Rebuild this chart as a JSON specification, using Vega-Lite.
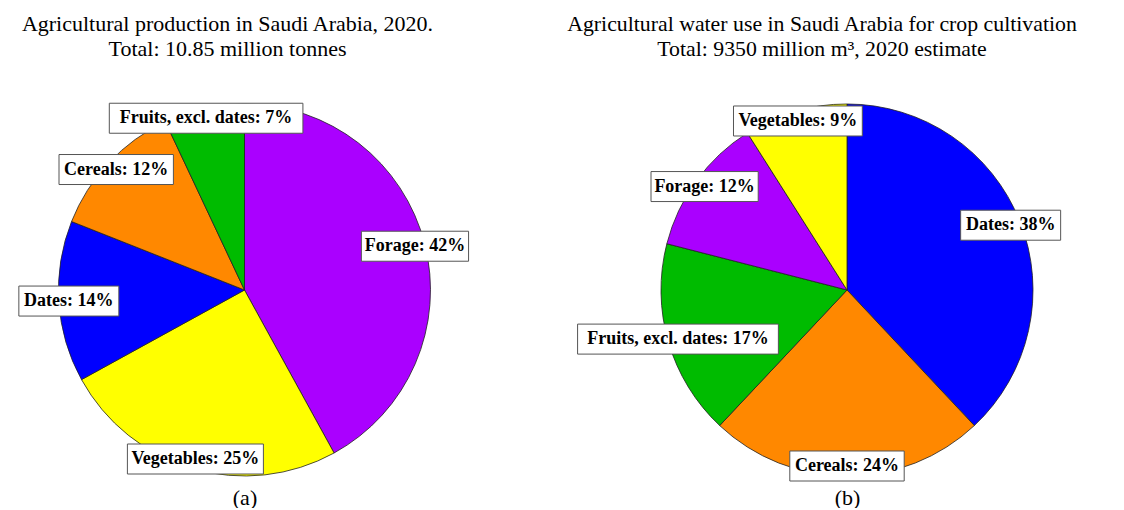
{
  "$schema": "https://vega.github.io/schema/vega-lite/v6.json",
  "background": "white",
  "padding": {"left": 17.5, "top": 13, "right": 0, "bottom": 0},
  "datasets": {
    "production": [
      {"crop": "Forage", "pct": 42},
      {"crop": "Vegetables", "pct": 25},
      {"crop": "Dates", "pct": 14},
      {"crop": "Cereals", "pct": 12},
      {"crop": "Fruits, excl. dates", "pct": 7}
    ],
    "water": [
      {"crop": "Dates", "pct": 38},
      {"crop": "Cereals", "pct": 24},
      {"crop": "Fruits, excl. dates", "pct": 17},
      {"crop": "Forage", "pct": 12},
      {"crop": "Vegetables", "pct": 9}
    ]
  },
  "spacing": 202.5,
  "bounds": "flush",
  "hconcat": [
    {
      "width": 400,
      "height": 380,
      "data": {"name": "production"},
      "transform": [
        {"window": [{"op": "sum", "field": "pct", "as": "cum"}], "sort": [{"field": "pct", "order": "descending"}], "frame": [null, 0]},
        {"calculate": "(datum.cum - datum.pct / 2) * PI / 50", "as": "mid"},
        {"calculate": "176 * sin(datum.mid)", "as": "lx"},
        {"calculate": "176 * cos(datum.mid)", "as": "ly"},
        {"calculate": "datum.crop + ': ' + datum.pct + '%'", "as": "label"},
        {"calculate": "3.6 * length(datum.label) + 14", "as": "hw"},
        {"calculate": "datum.lx - datum.hw", "as": "bx1"},
        {"calculate": "datum.lx + datum.hw", "as": "bx2"},
        {"calculate": "datum.ly - 15", "as": "by1"},
        {"calculate": "datum.ly + 15", "as": "by2"}
      ],
      "title": {
        "text": ["Agricultural production in Saudi Arabia, 2020.", "Total: 10.85 million tonnes"],
        "anchor": "middle",
        "font": "Liberation Serif",
        "fontSize": 22,
        "fontWeight": "normal",
        "lineHeight": 25,
        "color": "#000",
        "dx": -17,
        "offset": 39
      },
      "layer": [
        {
          "mark": {"type": "arc", "outerRadius": 186, "stroke": "#222", "strokeWidth": 0.8},
          "encoding": {
            "theta": {"field": "pct", "type": "quantitative", "stack": true},
            "order": {"field": "pct", "type": "quantitative", "sort": "descending"},
            "color": {
              "field": "crop", "type": "nominal", "legend": null,
              "scale": {"domain": ["Forage", "Vegetables", "Dates", "Cereals", "Fruits, excl. dates"],
                        "range": ["#AA00FF", "#FFFF00", "#0000FF", "#FF8800", "#00BB00"]}
            }
          }
        },
        {
          "mark": {"type": "rect", "fill": "white", "stroke": "#555", "strokeWidth": 1},
          "encoding": {
            "x": {"field": "bx1", "type": "quantitative",
                  "scale": {"domain": [-200, 200], "nice": false, "zero": false},
                  "axis": {"title": "(a)", "labels": false, "ticks": false, "domain": false, "grid": false,
                           "titleFont": "Liberation Serif", "titleFontSize": 22, "titleFontWeight": "normal", "titleColor": "#000", "titlePadding": 7}},
            "x2": {"field": "bx2"},
            "y": {"field": "by1", "type": "quantitative",
                  "scale": {"domain": [-190, 190], "nice": false, "zero": false}, "axis": null},
            "y2": {"field": "by2"}
          }
        },
        {
          "mark": {"type": "text", "font": "Liberation Serif", "fontWeight": "bold", "fontSize": 18, "fill": "#000"},
          "encoding": {
            "x": {"field": "lx", "type": "quantitative"},
            "y": {"field": "ly", "type": "quantitative"},
            "text": {"field": "label", "type": "nominal"}
          }
        }
      ]
    },
    {
      "width": 400,
      "height": 380,
      "data": {"name": "water"},
      "transform": [
        {"window": [{"op": "sum", "field": "pct", "as": "cum"}], "sort": [{"field": "pct", "order": "descending"}], "frame": [null, 0]},
        {"calculate": "(datum.cum - datum.pct / 2) * PI / 50", "as": "mid"},
        {"calculate": "176 * sin(datum.mid)", "as": "lx"},
        {"calculate": "176 * cos(datum.mid)", "as": "ly"},
        {"calculate": "datum.crop + ': ' + datum.pct + '%'", "as": "label"},
        {"calculate": "3.6 * length(datum.label) + 14", "as": "hw"},
        {"calculate": "datum.lx - datum.hw", "as": "bx1"},
        {"calculate": "datum.lx + datum.hw", "as": "bx2"},
        {"calculate": "datum.ly - 15", "as": "by1"},
        {"calculate": "datum.ly + 15", "as": "by2"}
      ],
      "title": {
        "text": ["Agricultural water use in Saudi Arabia for crop cultivation", "Total: 9350 million m³, 2020 estimate"],
        "anchor": "middle",
        "font": "Liberation Serif",
        "fontSize": 21.8,
        "fontWeight": "normal",
        "lineHeight": 25,
        "color": "#000",
        "dx": -25,
        "offset": 39
      },
      "layer": [
        {
          "mark": {"type": "arc", "outerRadius": 186, "stroke": "#222", "strokeWidth": 0.8},
          "encoding": {
            "theta": {"field": "pct", "type": "quantitative", "stack": true},
            "order": {"field": "pct", "type": "quantitative", "sort": "descending"},
            "color": {
              "field": "crop", "type": "nominal", "legend": null,
              "scale": {"domain": ["Forage", "Vegetables", "Dates", "Cereals", "Fruits, excl. dates"],
                        "range": ["#AA00FF", "#FFFF00", "#0000FF", "#FF8800", "#00BB00"]}
            }
          }
        },
        {
          "mark": {"type": "rect", "fill": "white", "stroke": "#555", "strokeWidth": 1},
          "encoding": {
            "x": {"field": "bx1", "type": "quantitative",
                  "scale": {"domain": [-200, 200], "nice": false, "zero": false},
                  "axis": {"title": "(b)", "labels": false, "ticks": false, "domain": false, "grid": false,
                           "titleFont": "Liberation Serif", "titleFontSize": 22, "titleFontWeight": "normal", "titleColor": "#000", "titlePadding": 7}},
            "x2": {"field": "bx2"},
            "y": {"field": "by1", "type": "quantitative",
                  "scale": {"domain": [-190, 190], "nice": false, "zero": false}, "axis": null},
            "y2": {"field": "by2"}
          }
        },
        {
          "mark": {"type": "text", "font": "Liberation Serif", "fontWeight": "bold", "fontSize": 18, "fill": "#000"},
          "encoding": {
            "x": {"field": "lx", "type": "quantitative"},
            "y": {"field": "ly", "type": "quantitative"},
            "text": {"field": "label", "type": "nominal"}
          }
        }
      ]
    }
  ],
  "config": {"view": {"stroke": null}}
}
